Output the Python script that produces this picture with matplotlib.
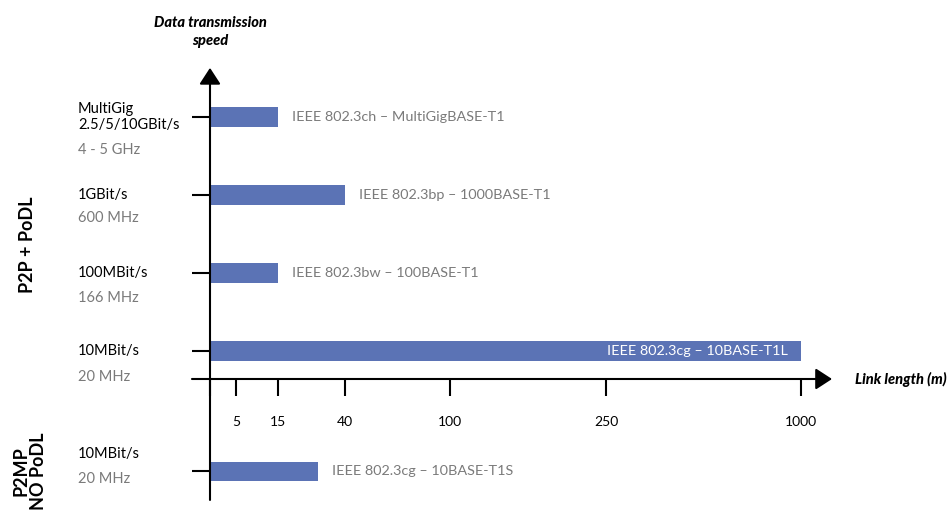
import numpy as np
import matplotlib.pyplot as plt

# Daten
geschwindigkeiten = ["MultiGig\n2.5/5/10GBit/s", "1GBit/s", "100MBit/s", "10MBit/s", "10MBit/s"]
frequenzen = ["4 - 5 GHz", "600 MHz", "166 MHz", "20 MHz", "20 MHz"]
standards = ["IEEE 802.3ch – MultiGigBASE-T1", "IEEE 802.3bp – 1000BASE-T1",
             "IEEE 802.3bw – 100BASE-T1", "IEEE 802.3cg – 10BASE-T1L",
             "IEEE 802.3cg – 10BASE-T1S"]
laengen = [15, 40, 15, 1000, 30]
laengen_ticks = [5, 15, 40, 100, 250, 1000]

# Layout (Zeilenpositionen, Skala, Textversatz in Pixeln)
zeilen = [4, 3, 2, 1, -0.54]
skala_werte = [0] + laengen_ticks
skala_pos = [0, 26, 68, 135, 240, 396, 591]
versatz_geschw = [0, 0, 0, 0, 17]
versatz_freq = [-33, -23, -25, -26, -8]

BALKEN = '#5B73B5'
GRAU = '#7a7a7a'
plt.rcParams['font.family'] = ['Lato', 'DejaVu Sans']


def vorwaerts(x):
    return np.interp(x, skala_werte, skala_pos)


def rueckwaerts(p):
    return np.interp(p, skala_pos, skala_werte)


W, H = 953, 519
PX = 0.72  # Pixel -> Punkte
fig = plt.figure(figsize=(W / 100, H / 100), dpi=100)
ax = fig.add_axes([210 / W, 0, 591 / W, 1])
ax.set_xscale('function', functions=(vorwaerts, rueckwaerts))
ax.set_xlim(0, 1000)
ax.set_ylim(-1.154, 5.5)
for s in ax.spines.values():
    s.set_visible(False)
ax.patch.set_alpha(0)

x_achse_y = 0.641

# Balken
ax.barh(zeilen, laengen, height=0.244, color=BALKEN, zorder=2)

# Achsen mit Pfeilen
pfeil = dict(arrowstyle='-|>,head_width=0.65,head_length=1.0',
             mutation_scale=10, color='black', lw=1.5, shrinkA=0, shrinkB=0)
ax.annotate('', xy=(0, 4.63), xytext=(0, -0.91), xycoords='data',
            arrowprops=pfeil, zorder=3)
ax.annotate('', xy=(1.0525, x_achse_y), xytext=(-0.0305, x_achse_y),
            xycoords=ax.get_yaxis_transform(), arrowprops=pfeil, zorder=3)

# X-Ticks
ax.spines['bottom'].set_position(('data', x_achse_y))
ax.set_xticks([0] + laengen_ticks)
ax.set_xticklabels([''] + [str(v) for v in laengen_ticks], fontsize=10)
ax.tick_params(axis='x', direction='out', length=12.5, width=1.5, pad=14)

# Y-Ticks
ax.set_yticks(zeilen)
ax.set_yticklabels([''] * len(zeilen))
ax.tick_params(axis='y', direction='out', length=13, width=1.5)

# Beschriftungen links
trans = ax.get_yaxis_transform()
for y, g, f, dg, df in zip(zeilen, geschwindigkeiten, frequenzen,
                           versatz_geschw, versatz_freq):
    ax.annotate(g, xy=(-0.2234, y), xycoords=trans,
                xytext=(0, dg * PX), textcoords='offset points',
                ha='left', va='center', fontsize=10.5, color='black', linespacing=1.1)
    ax.annotate(f, xy=(-0.2234, y), xycoords=trans,
                xytext=(0, df * PX), textcoords='offset points',
                ha='left', va='center', fontsize=10.5, color=GRAU)

# Standards an den Balken
for y, l, s in zip(zeilen, laengen, standards):
    if l == max(laengen):
        ax.annotate(s, xy=(l, y), xytext=(-9.5, 0), textcoords='offset points',
                    ha='right', va='center', fontsize=10.4, color='white', zorder=4)
    else:
        ax.annotate(s, xy=(l, y), xytext=(10, 0), textcoords='offset points',
                    ha='left', va='center', fontsize=10.4, color=GRAU)

# Achsentitel
fig.text(210 / W, 1 - 32 / H, 'Data transmission\nspeed', ha='center', va='center',
         fontsize=10.5, fontweight='black', fontstyle='italic', linespacing=1.4)
fig.text(947 / W, 1 - 379 / H, 'Link length (m)', ha='right', va='center',
         fontsize=10.5, fontweight='black', fontstyle='italic')

# Gruppen
fig.text(28 / W, 1 - 245 / H, 'P2P + PoDL', rotation=90, ha='center', va='center',
         fontsize=13, fontweight='bold')
fig.text(30 / W, 1 - 471 / H, 'P2MP\nNO PoDL', rotation=90, ha='center', va='center',
         fontsize=13, fontweight='bold', multialignment='center', linespacing=1.0)

fig.savefig('out.png', dpi=100)
